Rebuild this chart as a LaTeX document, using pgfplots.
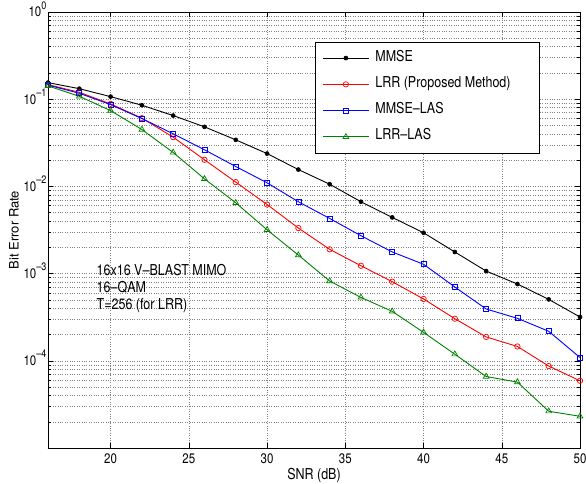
\documentclass[border=0pt]{standalone}
\usepackage{pgfplots}
\pgfplotsset{compat=1.18}
\usepackage{fontspec}
\setmainfont{TeX Gyre Heros}
\usepackage{graphicx}
\definecolor{mgreen}{rgb}{0,0.5,0}
% text in the reference is a bit taller than wide
\newcommand{\vs}[1]{\scalebox{1}[1.2]{#1}}
\newcommand{\tp}[1]{\vs{10\raisebox{6.5pt}{\fontsize{9}{9}\selectfont #1}}}

\pgfplotstableread{
x y
16 0.155
18 0.132
20 0.107
22 0.0853
24 0.0649
26 0.0482
28 0.0342
30 0.0238
32 0.0156
34 0.0106
36 0.00667
38 0.00441
40 0.00294
42 0.00177
44 0.00107
46 0.00076
48 0.000506
50 0.000318
}\mmse
\pgfplotstableread{
x y
16 0.147
18 0.12
20 0.0883
22 0.0606
24 0.0367
26 0.0202
28 0.0112
30 0.0062
32 0.00333
34 0.0019
36 0.00123
38 0.000808
40 0.000512
42 0.000304
44 0.000188
46 0.000146
48 8.7e-5
50 5.9e-5
}\lrr
\pgfplotstableread{
x y
16 0.145
18 0.117
20 0.0867
22 0.06
24 0.0401
26 0.0263
28 0.0169
30 0.011
32 0.00667
34 0.00429
36 0.00272
38 0.00177
40 0.00128
42 0.000702
44 0.000393
46 0.000307
48 0.000218
50 0.000109
}\mmselas
\pgfplotstableread{
x y
16 0.142
18 0.108
20 0.074
22 0.0449
24 0.0245
26 0.0122
28 0.00649
30 0.00318
32 0.00163
34 0.000822
36 0.000533
38 0.000369
40 0.000212
42 0.000119
44 6.6e-5
46 5.7e-5
48 2.64e-5
50 2.31e-5
}\lrrlas

\begin{document}
\begin{tikzpicture}
\path[use as bounding box] (-48pt,-36pt) rectangle (538pt,448pt);
\begin{axis}[
  scale only axis, width=532pt, height=436pt,
  xmin=16, xmax=50,
  ymode=log, ymin=1e-5, ymax=1,
  xtick={20,25,...,50},
  ytick={1e-5,1e-4,1e-3,1e-2,1e-1,1},
  yticklabels={{},\tp{--4},\tp{--3},\tp{--2},\tp{--1},\tp{0}},
  xticklabel={\vs{\pgfmathprintnumber[assume math mode=true]{\tick}}},
  tick label style={font=\fontsize{11.5}{13}\selectfont},
  yticklabel style={anchor=base east, inner sep=0pt, xshift=-1.5pt, yshift=-4.9pt},
  xticklabel style={inner sep=0pt, yshift=-6pt},
  tick align=inside,
  major tick length=5pt, minor tick length=3pt,
  tick style={black, line width=0.5pt},
  axis line style={line width=0.8pt},
  grid=both,
  major grid style={black!50, dash pattern=on 0.8pt off 1.6pt, line width=0.5pt},
  minor grid style={black!50, dash pattern=on 0.8pt off 1.6pt, line width=0.5pt},
  xlabel={\vs{SNR (dB)}},
  ylabel={Bit Error Rate},
  label style={font=\fontsize{12.5}{14}\selectfont},
  xlabel style={at={(axis description cs:0.5,-0.062)}, anchor=center},
  ylabel style={at={(axis description cs:-0.064,0.5)}, anchor=center, font=\fontsize{13}{15}\selectfont},
  clip=false,
  legend style={at={(rel axis cs:0.502,0.932)}, anchor=north west,
    draw=black, line width=0.8pt, fill=white,
    inner xsep=7pt, inner ysep=8pt, row sep=10.3pt, column sep=4pt,
    font=\fontsize{12.5}{14}\selectfont,
    nodes={inner sep=2pt, text height=9pt, text depth=3pt}},
  legend cell align=left,
  legend image code/.code={\draw[mark repeat=2, mark phase=2, #1] plot coordinates {(0pt,0pt) (23pt,0pt) (46pt,0pt)};},
]
\addplot[black, line width=0.9pt, mark=*, mark size=2pt, mark options={solid, line width=0.6pt}] table[x=x,y=y] {\mmse};
\addplot[red, line width=0.9pt, mark=o, mark size=2.7pt, mark options={solid, line width=0.7pt}] table[x=x,y=y] {\lrr};
\addplot[blue, line width=0.9pt, mark=square, mark size=2.5pt, mark options={solid, line width=0.7pt}] table[x=x,y=y] {\mmselas};
\addplot[mgreen, line width=0.9pt, mark=triangle, mark size=3.3pt, mark options={solid, line width=0.7pt}] table[x=x,y=y] {\lrrlas};
\legend{\vs{MMSE}, \vs{LRR (Proposed Method)}\hspace*{20pt}, \vs{MMSE--LAS}, \vs{LRR--LAS}}
\node[anchor=north west, align=left, inner sep=0pt, font=\fontsize{12.5}{17}\selectfont]
  at (axis cs:19.1,1.3e-3) {\vs{16x16 V--BLAST MIMO}\\ \vs{16--QAM}\\ \vs{T=256 (for LRR)}};
\end{axis}
\end{tikzpicture}
\end{document}
